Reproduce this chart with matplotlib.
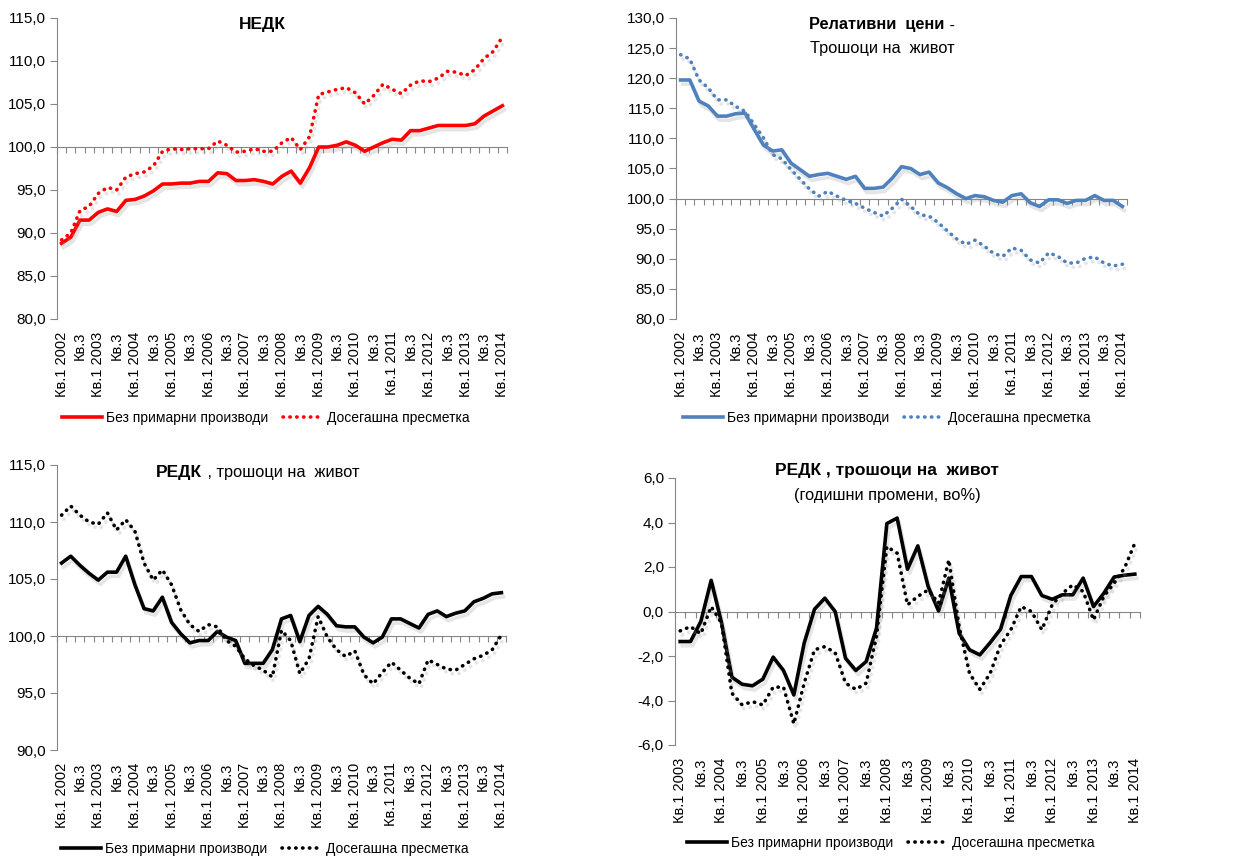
import matplotlib
matplotlib.use('Agg')
import matplotlib.pyplot as plt
import matplotlib.patheffects as pe
from matplotlib.lines import Line2D
import numpy as np

plt.rcParams['font.family'] = ['Liberation Sans', 'DejaVu Sans']

# квартали Кв.1 2002 - Кв.1 2014
cats = []
for y in range(2002, 2015):
    for q in range(1, 5):
        cats.append('Кв.1 %d' % y if q == 1 else 'Кв.%d' % q)
cats = cats[:49]
cats_yoy = cats[4:]          # од Кв.1 2003

lab_new = 'Без примарни производи'
lab_old = 'Досегашна пресметка'

# НЕДК
nedk_new = [88.8, 89.5, 91.5, 91.5, 92.4, 92.8, 92.5, 93.8, 93.9, 94.3, 94.9, 95.7, 95.7,
            95.8, 95.8, 96.0, 96.0, 97.0, 96.9, 96.1, 96.1, 96.2, 96.0, 95.7, 96.6, 97.2,
            95.8, 97.6, 100.0, 100.0, 100.2, 100.6, 100.2, 99.5, 100.0, 100.5, 100.9, 100.8,
            101.9, 101.9, 102.2, 102.5, 102.5, 102.5, 102.5, 102.7, 103.6, 104.2, 104.8]
nedk_old = [89.2, 90.0, 92.6, 93.1, 94.6, 95.3, 95.0, 96.5, 96.9, 97.1, 97.8, 99.5, 99.8,
            99.7, 99.8, 99.8, 99.8, 100.7, 100.2, 99.4, 99.5, 99.8, 99.5, 99.5, 100.5, 101.1,
            99.7, 101.2, 106.1, 106.4, 106.7, 106.9, 106.3, 105.0, 106.0, 107.3, 106.7, 106.2,
            107.2, 107.7, 107.6, 108.0, 108.8, 108.7, 108.3, 109.0, 110.3, 111.1, 112.8]

# Релативни цени - трошоци на живот
rel_new = [119.7, 119.7, 116.2, 115.4, 113.7, 113.7, 114.1, 114.2, 111.5, 108.9, 107.9, 108.1,
           105.9, 104.8, 103.7, 104.0, 104.2, 103.7, 103.2, 103.7, 101.7, 101.7, 101.9, 103.4,
           105.3, 105.0, 104.0, 104.4, 102.6, 101.8, 100.8, 100.0, 100.5, 100.3, 99.7, 99.4,
           100.5, 100.8, 99.3, 98.7, 99.8, 99.8, 99.2, 99.7, 99.7, 100.5, 99.7, 99.7, 98.7]
rel_old = [123.9, 123.2, 119.7, 118.4, 116.4, 116.4, 115.3, 114.5, 112.3, 110.1, 107.3, 106.6,
           104.8, 103.2, 101.6, 100.4, 101.2, 100.4, 99.7, 99.2, 98.4, 97.7, 97.1, 98.4, 99.9,
           98.7, 97.3, 97.1, 96.0, 94.6, 93.3, 92.4, 93.1, 92.1, 90.9, 90.4, 91.8, 91.4, 89.8,
           89.3, 91.0, 90.4, 89.3, 89.3, 90.1, 90.3, 89.3, 88.8, 89.1]

# РЕДК, трошоци на живот
redk_new = [106.4, 107.0, 106.2, 105.5, 104.9, 105.6, 105.6, 107.0, 104.5, 102.4, 102.2, 103.4,
            101.2, 100.2, 99.4, 99.6, 99.6, 100.4, 99.9, 99.6, 97.6, 97.6, 97.6, 98.8, 101.5,
            101.8, 99.5, 101.8, 102.6, 101.9, 100.9, 100.8, 100.8, 99.9, 99.4, 99.9, 101.5,
            101.5, 101.1, 100.7, 101.9, 102.2, 101.7, 102.0, 102.2, 103.0, 103.3, 103.7, 103.8]
redk_old = [110.6, 111.4, 110.6, 110.0, 109.8, 110.8, 109.3, 110.2, 109.2, 106.4, 104.9, 105.8,
            104.5, 102.3, 101.0, 100.4, 101.0, 100.8, 99.6, 99.1, 98.0, 97.4, 97.0, 96.4, 100.5,
            99.6, 96.7, 98.0, 101.7, 99.9, 98.8, 98.2, 98.7, 96.6, 95.8, 96.8, 97.7, 97.0, 96.3,
            95.8, 97.9, 97.5, 97.1, 97.0, 97.5, 98.0, 98.3, 98.8, 100.1]

# РЕДК, годишни промени во %
yoy_new = [-1.35, -1.35, -0.45, 1.4, -0.5, -2.95, -3.27, -3.34, -3.04, -2.05, -2.65, -3.75,
           -1.42, 0.1, 0.6, 0.0, -2.1, -2.65, -2.25, -0.75, 3.95, 4.2, 1.9, 2.95, 1.12, 0.03,
           1.5, -0.98, -1.72, -1.95, -1.4, -0.8, 0.72, 1.57, 1.57, 0.72, 0.55, 0.75, 0.75, 1.5,
           0.22, 0.82, 1.55, 1.63, 1.68]
yoy_old = [-0.87, -0.68, -1.0, 0.22, -0.52, -3.67, -4.2, -4.05, -4.2, -3.4, -3.4, -5.05,
           -3.22, -1.72, -1.58, -1.85, -3.22, -3.5, -3.22, -1.12, 2.92, 2.62, 0.3, 0.68, 0.97,
           0.37, 2.32, -0.68, -2.78, -3.5, -2.78, -1.5, -0.82, 0.22, 0.0, -0.82, 0.3, 0.82,
           1.2, 0.9, -0.38, 0.68, 1.28, 1.95, 3.07]

W, H = 1237, 857
grey = '#868686'
shadow = [pe.SimpleLineShadow(offset=(1.5, -3), shadow_color='#9a9a9a', alpha=0.25),
          pe.Normal()]
dots = (0, (0.1, 1.8))


def px(x, y):
    return x / W, 1 - y / H


def panel(box, labels, s1, s2, color, ylim, ystep, base):
    l, t, r, b = box
    ax = fig.add_axes([l / W, 1 - b / H, (r - l) / W, (b - t) / H])
    x = np.arange(len(s1))
    ax.plot(x, s1, color=color, lw=2.6, solid_joinstyle='round', path_effects=shadow)
    ax.plot(x, s2, color=color, lw=2.6, ls=dots, dash_capstyle='round', path_effects=shadow)
    ax.set_xlim(-0.5, len(s1) - 0.5)
    ax.set_ylim(*ylim)
    yt = np.arange(ylim[0], ylim[1] + ystep / 2, ystep)
    ax.set_yticks(yt)
    ax.set_yticklabels([('%.1f' % v).replace('.', ',') for v in yt])
    ax.set_xticks(x[::2])
    ax.set_xticklabels(labels[::2], rotation=90)
    for s in ['top', 'right', 'bottom']:
        ax.spines[s].set_visible(False)
    ax.spines['left'].set_color(grey)
    ax.tick_params(axis='y', direction='out', length=5, color=grey, labelsize=11, pad=3)
    ax.tick_params(axis='x', length=0, labelsize=10.5, pad=9)
    # хоризонтална оска на базата (100 / 0)
    sec = ax.secondary_xaxis((base - ylim[0]) / (ylim[1] - ylim[0]))
    sec.set_alignment('bottom')
    sec.set_xticks(np.arange(-0.5, len(s1), 1))
    sec.set_xticklabels([])
    sec.tick_params(direction='out', length=4, color=grey,
                    labelbottom=False, labeltop=False)
    sec.spines['bottom'].set_color(grey)
    return ax


def legend(color, cx, cy):
    h = [Line2D([], [], color=color, lw=2.6),
         Line2D([], [], color=color, lw=2.6, ls=dots, dash_capstyle='round')]
    fig.legend(h, [lab_new, lab_old], loc='center', bbox_to_anchor=px(cx, cy), ncol=2,
               frameon=False, fontsize=10, handlelength=2.9, handletextpad=0.25,
               columnspacing=1.1)


fig = plt.figure(figsize=(W / 100, H / 100), dpi=100)

panel((57, 18, 507, 319), cats, nedk_new, nedk_old, '#ff0000', (80, 115), 5, 100)
panel((676, 18, 1127, 319), cats, rel_new, rel_old, '#4f81bd', (80, 130), 5, 100)
panel((57, 465, 506, 750), cats, redk_new, redk_old, 'black', (90, 115), 5, 100)
panel((675, 478, 1140, 745), cats_yoy, yoy_new, yoy_old, 'black', (-6, 6), 2, 0)

# наслови
fig.text(*px(262, 25), 'НЕДК', ha='center', va='center', fontsize=12.5, fontweight='bold')
fig.text(*px(944, 25), 'Релативни  цени', ha='right', va='center', fontsize=11.8,
         fontweight='bold')
fig.text(*px(945, 25), ' -', ha='left', va='center', fontsize=11.8)
fig.text(*px(882, 49), 'Трошоци на  живот', ha='center', va='center', fontsize=11.8)
fig.text(*px(202, 473), 'РЕДК', ha='right', va='center', fontsize=12.5, fontweight='bold')
fig.text(*px(203, 473), ' , трошоци на  живот', ha='left', va='center', fontsize=11.8)
fig.text(*px(887, 471), 'РЕДК , трошоци на  живот', ha='center', va='center',
         fontsize=12.5, fontweight='bold')
fig.text(*px(887, 495), '(годишни промени, во%)', ha='center', va='center', fontsize=11.8)

legend('#ff0000', 266, 418)
legend('#4f81bd', 887, 418)
legend('black', 265, 849)
legend('black', 891, 843)

fig.savefig('out.png', dpi=100)
